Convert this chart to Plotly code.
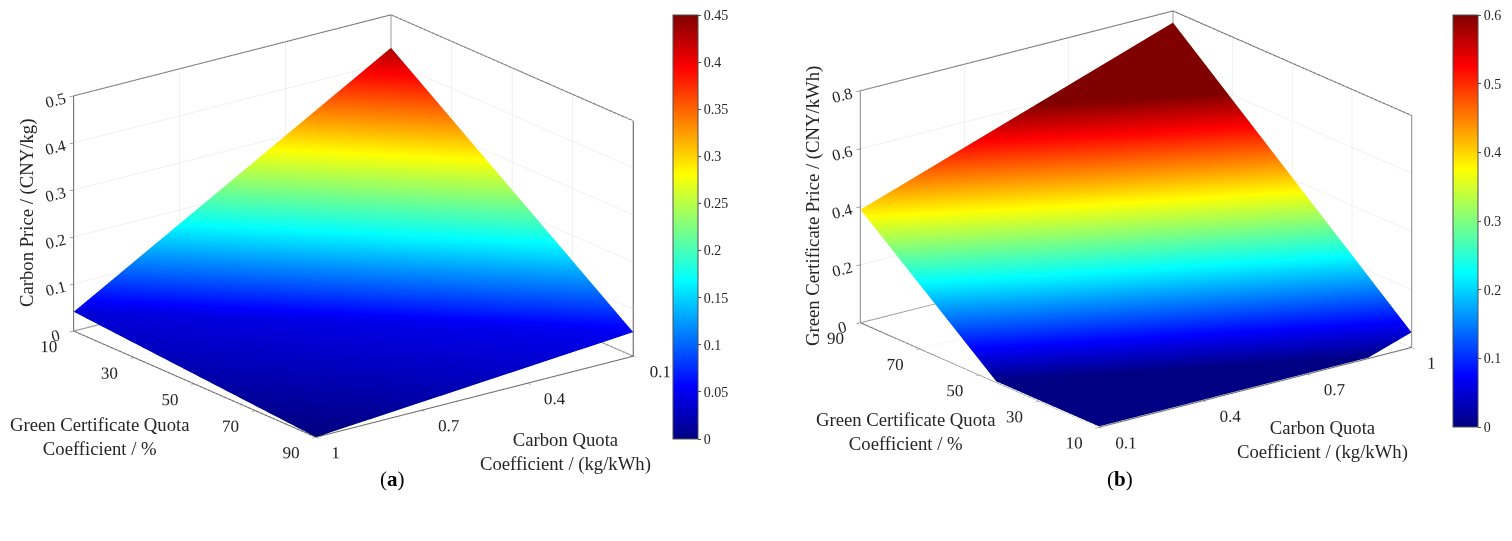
import plotly.graph_objects as go

# ---- data ----
# (a) carbon price surface, corner points of the two facets
a_carbon_quota = [1.0, 0.1, 0.1, 1.0]        # kg/kWh
a_green_quota = [10, 90, 10, 90]             # %
a_carbon_price = [0.041, 0.051, 0.43, 0.0]   # CNY/kg
a_faces = [[0, 1, 2], [0, 1, 3]]

# (b) green certificate price surface, corners plus the fold where it reaches ~0
b_carbon_quota = [0.1, 1.0, 1.0, 0.876, 0.1, 0.1]
b_green_quota = [90, 90, 10, 10, 44.5, 10]
b_gc_price = [0.39, 0.76, 0.052, 0.003, 0.003, 0.003]   # CNY/kWh
b_faces = [[4, 0, 1], [4, 1, 2], [4, 2, 3], [4, 3, 5]]

cq_ticks = [0.1, 0.4, 0.7, 1.0]
gc_ticks = [10, 30, 50, 70, 90]
a_z_ticks = [0, 0.1, 0.2, 0.3, 0.4, 0.5]
b_z_ticks = [0, 0.2, 0.4, 0.6, 0.8]
a_cbar_ticks = [0, 0.05, 0.1, 0.15, 0.2, 0.25, 0.3, 0.35, 0.4, 0.45]
b_cbar_ticks = [0, 0.1, 0.2, 0.3, 0.4, 0.5, 0.6]

# matlab jet
jet = [[0, 'rgb(0,0,128)'], [0.125, 'rgb(0,0,255)'], [0.375, 'rgb(0,255,255)'],
       [0.625, 'rgb(255,255,0)'], [0.875, 'rgb(255,0,0)'], [1, 'rgb(128,0,0)']]

FONT = 'Liberation Serif'
TXT = '#262626'
EDGE = '#505050'
W, H = 1512, 541
CQ_RANGE = [0.1, 1.0]
GC_RANGE = [10, 90]
LIFT = 0.03   # floor tick labels are anchored a little above the floor (share of z range)


def box_edges(xr, yr, zr, bx, by):
    # the 9 back edges of the axes box (matlab "back" box style)
    fx = xr[1] if bx == xr[0] else xr[0]
    fy = yr[1] if by == yr[0] else yr[0]
    z0, z1 = zr
    segs = [
        [(fx, fy, z0), (fx, by, z0)], [(fx, fy, z0), (bx, fy, z0)],
        [(bx, by, z0), (fx, by, z0)], [(bx, by, z0), (bx, fy, z0)],
        [(fx, by, z0), (fx, by, z1)], [(bx, by, z0), (bx, by, z1)],
        [(bx, fy, z0), (bx, fy, z1)],
        [(fx, by, z1), (bx, by, z1)], [(bx, by, z1), (bx, fy, z1)],
    ]
    xs, ys, zs = [], [], []
    for p, q in segs:
        xs += [p[0], q[0], None]
        ys += [p[1], q[1], None]
        zs += [p[2], q[2], None]
    return go.Scatter3d(x=xs, y=ys, z=zs, mode='lines', line=dict(color=EDGE, width=2),
                        hoverinfo='skip', showlegend=False)


def floor_labels(fx, fy, ztop, scene):
    # tick labels of the two floor axes, hung just outside the front edges
    zl = LIFT * ztop
    gc = go.Scatter3d(x=[fx] * len(gc_ticks), y=gc_ticks, z=[zl] * len(gc_ticks),
                      mode='text', text=[f'{t:g}' for t in gc_ticks],
                      textposition='bottom left', hoverinfo='skip', showlegend=False,
                      textfont=dict(family=FONT, size=17, color=TXT), scene=scene)
    cq = go.Scatter3d(x=cq_ticks, y=[fy] * len(cq_ticks), z=[zl] * len(cq_ticks),
                      mode='text', text=[f'{t:g}' for t in cq_ticks],
                      textposition='bottom right', hoverinfo='skip', showlegend=False,
                      textfont=dict(family=FONT, size=17, color=TXT), scene=scene)
    return [gc, cq]


def mesh(xv, yv, zv, faces, cmax, cticks, scene, cb_x, cb_len, cb_y):
    return go.Mesh3d(
        x=xv, y=yv, z=zv,
        i=[f[0] for f in faces], j=[f[1] for f in faces], k=[f[2] for f in faces],
        intensity=zv, intensitymode='vertex', colorscale=jet, cmin=0, cmax=cmax,
        flatshading=False,
        lighting=dict(ambient=1, diffuse=0, specular=0, roughness=1, fresnel=0),
        scene=scene,
        colorbar=dict(x=cb_x / W, xanchor='left', y=1 - cb_y / H, yanchor='middle',
                      xpad=0, ypad=0,
                      thickness=25, thicknessmode='pixels', len=cb_len, lenmode='pixels',
                      tickvals=cticks, ticktext=[f'{t:g}' for t in cticks],
                      ticks='outside', ticklen=3, tickcolor=EDGE,
                      outlinewidth=1, outlinecolor=EDGE,
                      tickfont=dict(family=FONT, size=14, color=TXT)),
    )


fig = go.Figure()
fig.add_trace(mesh(a_carbon_quota, a_green_quota, a_carbon_price, a_faces, 0.45,
                   a_cbar_ticks, 'scene', 673, 424, 227))
fig.add_trace(box_edges(CQ_RANGE, GC_RANGE, [0, 0.5], 0.1, 10).update(scene='scene'))
fig.add_traces(floor_labels(1.0, 90, 0.5, 'scene'))
fig.add_trace(mesh(b_carbon_quota, b_green_quota, b_gc_price, b_faces, 0.6,
                   b_cbar_ticks, 'scene2', 1453, 412, 221))
fig.add_trace(box_edges(CQ_RANGE, GC_RANGE, [0, 0.8], 1.0, 90).update(scene='scene2'))
fig.add_traces(floor_labels(0.1, 10, 0.8, 'scene2'))


def axis(rng, ticks, labels=True):
    return dict(range=rng, tickvals=ticks, ticktext=[f'{t:g}' for t in ticks],
                title=dict(text=''), showbackground=False, showgrid=True,
                gridcolor='#e3e3e3', gridwidth=1, zeroline=False, showline=False,
                ticks='outside', ticklen=10 if labels else 5, tickcolor=EDGE,
                showspikes=False, showticklabels=labels,
                tickfont=dict(family=FONT, size=14, color=TXT))


eye_a = dict(x=1.868, y=2.447, z=0.918)
eye_b = dict(x=-1.868, y=-2.447, z=0.891)

fig.update_layout(
    width=W, height=H, margin=dict(l=0, r=0, t=0, b=0),
    paper_bgcolor='white',
    scene=dict(domain=dict(x=[0.0, 0.4676], y=[0.0, 1.0]),
               xaxis=axis(CQ_RANGE, cq_ticks, False), yaxis=axis(GC_RANGE, gc_ticks, False),
               zaxis=axis([0, 0.5], a_z_ticks),
               aspectmode='manual', aspectratio=dict(x=1.476, y=1.476, z=0.923),
               camera=dict(eye=eye_a, center=dict(x=0, y=0, z=-0.1746),
                           up=dict(x=0, y=0, z=1),
                           projection=dict(type='orthographic'))),
    scene2=dict(domain=dict(x=[0.5026, 1.0], y=[0.0, 1.0]),
                xaxis=axis(CQ_RANGE, cq_ticks, False), yaxis=axis(GC_RANGE, gc_ticks, False),
                zaxis=axis([0, 0.8], b_z_ticks),
                aspectmode='manual', aspectratio=dict(x=1.454, y=1.454, z=0.910),
                camera=dict(eye=eye_b, center=dict(x=0, y=0, z=-0.2016),
                            up=dict(x=0, y=0, z=1),
                            projection=dict(type='orthographic'))),
)

# axis titles and panel labels placed like the original figure
notes = [
    (27, 213, 'Carbon Price / (CNY/kg)', -90),
    (100, 436, 'Green Certificate Quota<br>Coefficient / %', 0),
    (565, 452, 'Carbon Quota<br>Coefficient / (kg/kWh)', 0),
    (813, 206, 'Green Certificate Price / (CNY/kWh)', -90),
    (906, 431, 'Green Certificate Quota<br>Coefficient / %', 0),
    (1322, 440, 'Carbon Quota<br>Coefficient / (kg/kWh)', 0),
]
for px, py, txt, ang in notes:
    fig.add_annotation(x=px / W, y=1 - py / H, xref='paper', yref='paper',
                       text=txt, textangle=ang, showarrow=False,
                       xanchor='center', yanchor='middle',
                       font=dict(family=FONT, size=18.7, color=TXT))
for px, lab in [(378, 'a'), (1135, 'b')]:
    fig.add_annotation(x=px / W, y=1 - 493 / H, xref='paper', yref='paper',
                       text=f'(<b>{lab}</b>)', showarrow=False,
                       font=dict(family=FONT, size=21, color='black'))

# page body has a default 8px margin; drop it so the figure sits at the window corner
fig.write_html('out.html', config={'displayModeBar': False},
               post_script="document.body.style.margin='0';")
